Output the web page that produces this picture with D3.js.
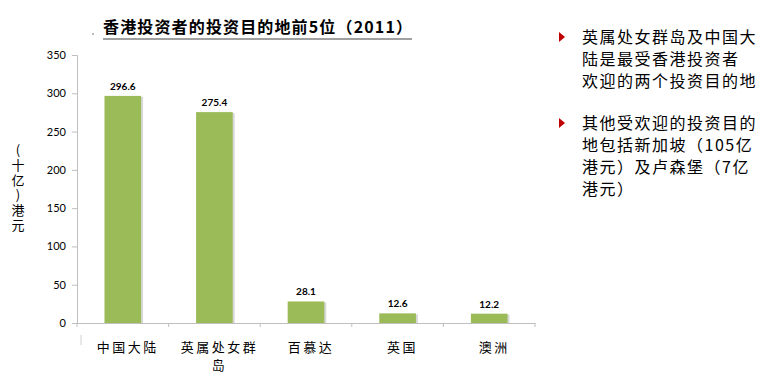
<!DOCTYPE html>
<html>
<head>
<meta charset="utf-8">
<script src="https://cdn.jsdelivr.net/npm/d3@7"></script>
<style>
  body { margin: 0; background: #fff; }
  #root { width: 766px; height: 386px; }
</style>
</head>
<body>
<div id="root"></div>
<script>
const categories = ['中国大陆', '英属处女群岛', '百慕达', '英国', '澳洲'];
const values = [296.6, 275.4, 28.1, 12.6, 12.2];
const yTicks = [0, 50, 100, 150, 200, 250, 300, 350];
const notes = [
    ['英属处女群岛及中国大', '陆是最受香港投资者', '欢迎的两个投资目的地'],
    ['其他受欢迎的投资目的', '地包括新加坡（105亿', '港元）及卢森堡（7亿', '港元）']
];

const margin = { top: 55, left: 77, right: 231, bottom: 63 };
const width = 766 - margin.left - margin.right;
const height = 386 - margin.top - margin.bottom;
const cjk = '"Noto Sans CJK SC", sans-serif';

const svg = d3.select('#root')
    .append('svg')
    .attr('width', 766)
    .attr('height', 386);

const g = svg.append('g')
    .attr('transform', `translate(${margin.left}, ${margin.top})`);

// Title
svg.append('text')
    .text('香港投资者的投资目的地前5位（2011）')
    .attr('x', 103)
    .attr('y', 33)
    .attr('font-family', cjk)
    .attr('font-weight', 'bold')
    .attr('font-size', 16)
    .attr('textLength', 309)
    .attr('fill', '#000');
svg.append('line')
    .attr('x1', 103).attr('x2', 412)
    .attr('y1', 39).attr('y2', 39)
    .attr('stroke', '#808080')
    .attr('stroke-width', 1.5);
svg.append('circle')
    .attr('cx', 93).attr('cy', 34).attr('r', 0.8)
    .attr('fill', '#666');

// Scales
const x = d3.scaleBand()
    .domain(categories)
    .range([0, width])
    .paddingInner(0.6)
    .paddingOuter(0.3);
const y = d3.scaleLinear()
    .domain([0, 350])
    .range([height, 0]);

// Axes
const yAxis = d3.axisLeft(y).tickValues(yTicks).tickSize(5).tickPadding(6);
const yG = g.append('g').call(yAxis);
yG.select('.domain').attr('stroke', '#BFBFBF');
yG.selectAll('.tick line').attr('stroke', '#BFBFBF');
yG.selectAll('.tick text')
    .attr('font-family', 'Lato, "Open Sans", sans-serif')
    .attr('font-size', 11)
    .attr('fill', '#000');

const xAxis = d3.axisBottom(x).tickSize(0).tickFormat('');
const xG = g.append('g')
    .attr('transform', `translate(0, ${height})`)
    .call(xAxis);
xG.select('.domain').attr('stroke', '#BFBFBF');

// band boundary ticks
const bounds = d3.range(categories.length + 1).map(i => i * width / categories.length);
g.selectAll('.bound')
    .data(bounds)
    .enter()
    .append('line')
    .attr('x1', d => d).attr('x2', d => d)
    .attr('y1', height).attr('y2', height + 4)
    .attr('stroke', '#BFBFBF');

// small stray mark under axis
g.append('line')
    .attr('x1', 4).attr('x2', 4)
    .attr('y1', height + 12).attr('y2', height + 22)
    .attr('stroke', '#D0D0D0');

// Bars with shadow
g.selectAll('.shadow')
    .data(values)
    .enter()
    .append('rect')
    .attr('x', (d, i) => x(categories[i]) + 2)
    .attr('y', d => y(d) + 1)
    .attr('width', x.bandwidth())
    .attr('height', d => height - y(d) - 1)
    .attr('fill', '#D9D9D9');

g.selectAll('.bar')
    .data(values)
    .enter()
    .append('rect')
    .attr('x', (d, i) => x(categories[i]))
    .attr('y', d => y(d))
    .attr('width', x.bandwidth())
    .attr('height', d => height - y(d))
    .attr('fill', '#9BBB59');

// Value labels
g.selectAll('.val')
    .data(values)
    .enter()
    .append('text')
    .text(d => d.toFixed(1))
    .attr('x', (d, i) => x(categories[i]) + x.bandwidth() / 2)
    .attr('y', d => y(d) - 6)
    .attr('text-anchor', 'middle')
    .attr('font-family', 'Lato, "Open Sans", sans-serif')
    .attr('font-size', 10)
    .attr('font-weight', 'bold')
    .attr('fill', '#000');

// Category labels
const catText = g.selectAll('.cat')
    .data(categories)
    .enter()
    .append('text')
    .attr('text-anchor', 'middle')
    .attr('font-family', cjk)
    .attr('font-size', 13)
    .attr('letter-spacing', 2.5)
    .attr('fill', '#000')
    .attr('transform', d => `translate(${x(d) + x.bandwidth() / 2 + 5}, ${height + 29})`);
catText.each(function (d) {
    const lines = d.length > 5 ? [d.slice(0, 5), d.slice(5)] : [d];
    d3.select(this).selectAll('tspan')
        .data(lines)
        .enter()
        .append('tspan')
        .attr('x', 0)
        .attr('dy', (l, i) => i === 0 ? 0 : 18)
        .text(l => l);
});

// Y axis title, vertical writing
svg.append('text')
    .text('(十亿)港元')
    .attr('x', 18)
    .attr('y', 144)
    .attr('font-family', cjk)
    .attr('font-size', 13)
    .attr('letter-spacing', 2)
    .style('writing-mode', 'vertical-rl')
    .style('text-orientation', 'upright')
    .attr('fill', '#000');

// Right notes
const noteG = svg.append('g');
let lineY = 43;
notes.forEach(block => {
    noteG.append('path')
        .attr('d', `M559,${lineY - 11} L565,${lineY - 6} L559,${lineY - 1} Z`)
        .attr('fill', '#C00000');
    block.forEach(line => {
        noteG.append('text')
            .text(line)
            .attr('x', 582)
            .attr('y', lineY)
            .attr('font-family', cjk)
            .attr('font-size', 16)
            .attr('letter-spacing', 1.5)
            .attr('fill', '#000');
        lineY += 22;
    });
    lineY += 20;
});
</script>
</body>
</html>
